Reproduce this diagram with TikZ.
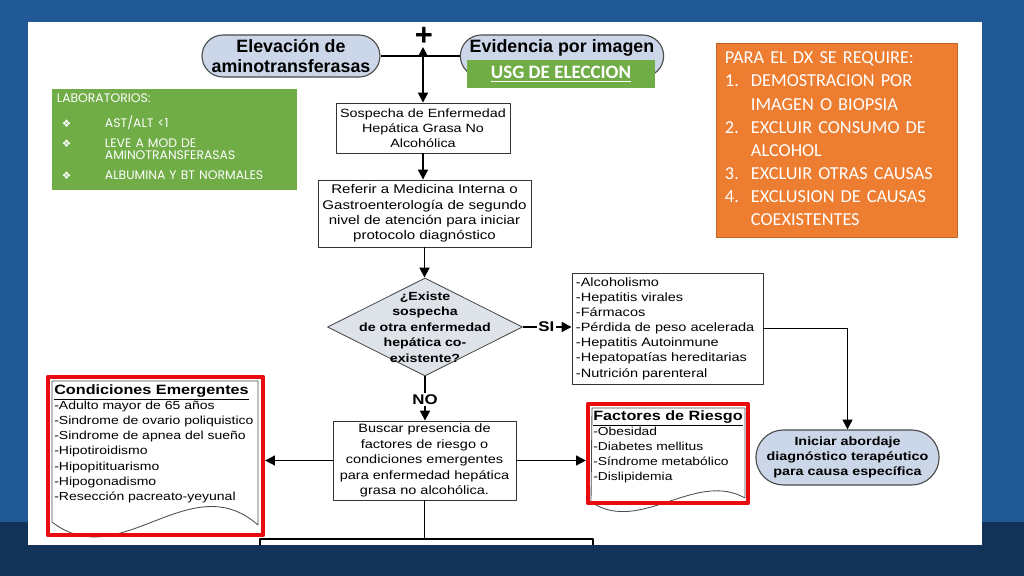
\documentclass[tikz,border=0pt]{standalone}
\usepackage{fontspec}
\setmainfont{Liberation Sans}
\newfontfamily\widefont[FakeStretch=1.2]{Liberation Sans}
\newfontfamily\calfont{Carlito}
\newfontfamily\gothfont{Poppins}
\newfontfamily\symfont{DejaVu Sans}
\usetikzlibrary{shapes.geometric,shapes.misc,arrows.meta}
\definecolor{bgblue}{RGB}{33,89,150}
\definecolor{bgdark}{RGB}{19,50,88}
\definecolor{termblue}{RGB}{203,215,232}
\definecolor{diagray}{RGB}{222,226,233}
\definecolor{labgreen}{RGB}{112,173,71}
\definecolor{dxorange}{RGB}{237,125,49}
\definecolor{redbox}{RGB}{232,12,16}
\newcommand{\bul}{\hspace*{0.125cm}{\symfont\fontsize{7.5}{8}\selectfont ❖}}
\begin{document}
\begin{tikzpicture}[x=0.025cm,y=-0.025cm,line join=round,>={Triangle[length=7pt,width=7pt]},
  font=\widefont\fontsize{8.6}{10.8}\selectfont]
\tikzset{term/.style={rounded rectangle,draw=black!70,fill=termblue,line width=0.8pt,align=center,inner sep=1pt},
  proc/.style={rectangle,draw=black!80,fill=white,line width=0.6pt,align=center,inner sep=1pt},
  decis/.style={diamond,draw=black!70,fill=diagray,line width=0.6pt,inner sep=0pt},
  redframe/.style={draw=redbox,line width=3pt,inner sep=0pt},
  doc/.style={draw=black!70,fill=white,line width=0.6pt},
  conn/.style={line width=1.3pt},
  lst/.style={align=left,inner sep=0pt},
  toplbl/.style={font=\normalfont\bfseries\fontsize{12.7}{14.2}\selectfont}}
\useasboundingbox (0,0) rectangle (1024,576);
% slide background
\fill[bgblue] (0,0) rectangle (1024,576);
\fill[bgdark] (0,522) rectangle (1024,576);
\fill[white] (28,22) rectangle (982,545);
% top row
\node[term,toplbl,minimum width=4.2cm,minimum height=1.05cm] (elev) at (291,56) {Elevación de\\aminotransferasas};
\node[term,toplbl,minimum width=4.875cm,minimum height=1.05cm] (evid) at (562,56) {Evidencia por imagen\\ \mbox{}};
\node[fill=labgreen,text=white,minimum width=4.7cm,minimum height=0.7cm,
  font=\calfont\bfseries\fontsize{13.5}{15}\selectfont] (usg) at (561,74) {\underline{USG DE ELECCION}};
\node[font=\normalfont\bfseries\fontsize{22}{22}\selectfont,inner sep=0pt] (plus) at (424,36) {+};
\coordinate (jtop) at (423,47);
% laboratorios
\node[fill=labgreen,text=white,minimum width=6.125cm,minimum height=2.425cm,text width=5.875cm,
  inner xsep=0.125cm,align=left,font=\gothfont\fontsize{8.8}{9}\selectfont] (lab) at (174.5,139.5) {%
  \begin{tabular}{@{}p{1.2cm}@{}l@{}}
  \multicolumn{2}{@{}l@{}}{LABORATORIOS:}\\[7.2pt]
  \bul & AST/ALT <1\\[5pt]
  \bul & LEVE A MOD DE\\[-0.6pt]
       & AMINOTRANSFERASAS\\[5pt]
  \bul & ALBUMINA Y BT NORMALES\\[2pt]
  \end{tabular}};
% requisitos
\node[fill=dxorange,draw=dxorange!80!black,line width=0.5pt,text=white,minimum width=6.025cm,minimum height=4.85cm,
  text width=5.575cm,inner xsep=0.225cm,align=left,font=\calfont\fontsize{13}{16.4}\selectfont] (req) at (836.5,140) {%
  \begin{tabular}{@{}p{0.65cm}@{}l@{}}
  \multicolumn{2}{@{}l@{}}{PARA EL DX SE REQUIRE:}\\
  1. & DEMOSTRACION POR\\
     & IMAGEN O BIOPSIA\\
  2. & EXCLUIR CONSUMO DE\\
     & ALCOHOL\\
  3. & EXCLUIR OTRAS CAUSAS\\
  4. & EXCLUSION DE CAUSAS\\
     & COEXISTENTES
  \end{tabular}};
% main column
\node[proc,minimum width=4.35cm,minimum height=1.25cm,font=\widefont\fontsize{8.5}{10.8}\selectfont] (sosp) at (423,128) {Sospecha de Enfermedad\\Hepática Grasa No\\Alcohólica};
\node[proc,minimum width=5.325cm,minimum height=1.675cm,font=\widefont\fontsize{8.95}{10.9}\selectfont] (refer) at (424.5,213.5)
  {Referir a Medicina Interna o\\Gastroenterología de segundo\\nivel de atención para iniciar\\protocolo diagnóstico};
\node[decis,minimum width=4.875cm,minimum height=2.45cm,
  label={[align=center,font=\widefont\bfseries\fontsize{8.4}{11}\selectfont]center:{¿Existe\\sospecha\\de otra enfermedad\\hepática co-\\existente?}}] (dec) at (425,327) {};
\node[proc,minimum width=4.775cm,minimum height=2.775cm,text width=4.575cm,inner xsep=0.1cm,align=left] (causas) at (667.5,328.5)
  {-Alcoholismo\\-Hepatitis virales\\-Fármacos\\-Pérdida de peso acelerada\\-Hepatitis Autoinmune\\-Hepatopatías hereditarias\\-Nutrición parenteral};
\node[term,minimum width=4.225cm,minimum height=1.375cm,font=\widefont\bfseries\fontsize{8.5}{10.7}\selectfont] (inic) at (847.5,457.5)
  {Iniciar abordaje\\diagnóstico terapéutico\\para causa específica};
\node[proc,minimum width=4.575cm,minimum height=1.975cm,font=\widefont\fontsize{8.6}{11}\selectfont] (busc) at (424.5,460.5)
  {Buscar presencia de\\factores de riesgo o\\condiciones emergentes\\para enfermedad hepática\\grasa no alcohólica.};
% condiciones emergentes
\draw[doc] (52,381) -- (258,381) -- (258,525) .. controls (190,465) and (120,575) .. (52,522) -- cycle;
\node[lst,anchor=north west,font=\widefont\fontsize{8.3}{10.8}\selectfont] (condtxt) at (54,384)
  {{\bfseries\fontsize{9.6}{11.5}\selectfont\underline{Condiciones Emergentes}}\\-Adulto mayor de 65 años\\-Sindrome de ovario poliquistico\\-Sindrome de apnea del sueño\\-Hipotiroidismo\\-Hipopitituarismo\\-Hipogonadismo\\-Resección pacreato-yeyunal};
\node[redframe,minimum width=5.375cm,minimum height=3.95cm] (cond) at (155.5,456) {};
% factores de riesgo
\draw[doc] (592,408) -- (745,408) -- (745,498) .. controls (695,470) and (640,535) .. (591,502) -- cycle;
\node[lst,anchor=north west,font=\widefont\fontsize{8.2}{10.8}\selectfont] (facttxt) at (593,410)
  {{\bfseries\fontsize{9.6}{11.5}\selectfont\underline{Factores de Riesgo}}\\-Obesidad\\-Diabetes mellitus\\-Síndrome metabólico\\-Dislipidemia};
\node[redframe,minimum width=4cm,minimum height=2.475cm] (fact) at (668,453.5) {};
% connectors
\draw[conn] (elev.east) -- (evid.west);
\draw[conn,<->] (jtop) -- (sosp.north);
\draw[conn,->] (sosp.south) -- (sosp.south |- refer.north);
\draw[conn,->] (refer.south) -- (refer.south |- dec.north);
\draw[conn,->] (dec.east) -- node[fill=white,inner sep=1pt,pos=0.48,font=\widefont\bfseries] (si) {SI} (dec.east -| causas.west);
\draw[conn,->] (dec.south) -- node[fill=white,inner sep=1pt,pos=0.53,font=\widefont\bfseries] (no) {NO} (dec.south |- busc.north);
\draw[conn,->] (causas.east) -| (inic.north);
\draw[conn,->] (busc.west) -- (busc.west -| cond.east);
\draw[conn,->] (busc.east) -- (busc.east -| fact.west);
\coordinate (jbot) at (424.5,539);
\coordinate (jl) at (260,539);
\coordinate (jr) at (593,539);
\draw[line width=1.1pt] (busc.south) -- (jbot);
\draw[line width=1.1pt] (260,545) -- (jl) -- (jr) -- (593,545);
\end{tikzpicture}
\end{document}
